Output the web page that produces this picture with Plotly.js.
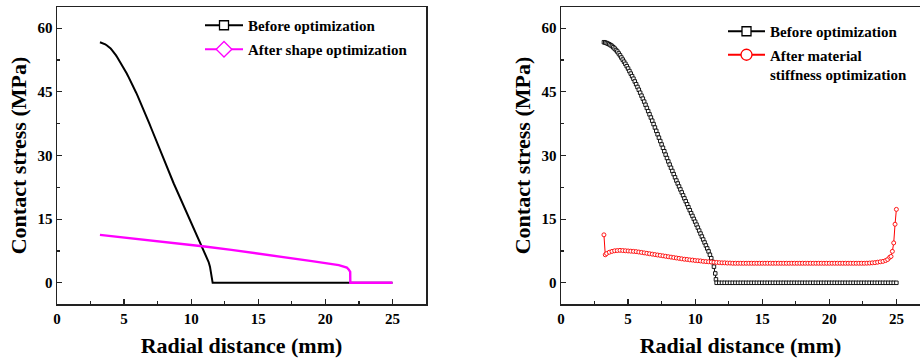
<!DOCTYPE html>
<html>
<head>
<meta charset="utf-8">
<script src="https://cdn.plot.ly/plotly-3.0.1.min.js"></script>
<style>
  html, body { margin: 0; padding: 0; background: #ffffff; }
  #chart { width: 920px; height: 362px; }
</style>
</head>
<body>
<div id="chart"></div>
<script>
// ---------- data ----------
const xTitle = 'Radial distance (mm)';
const yTitle = 'Contact stress (MPa)';
const nameBefore = 'Before optimization';
const nameShape = 'After shape optimization';
const nameMaterial = 'After material<br>stiffness optimization';

const beforeX = [3.2,3.3,3.4,3.5,3.6,3.7,3.8,3.9,4.0,4.1,4.2,4.3,4.4,4.5,4.6,4.7,4.8,4.9,5.0,5.1,5.2,5.3,5.4,5.5,5.6,5.7,5.8,5.9,6.0,6.1,6.2,6.3,6.4,6.5,6.6,6.7,6.8,6.9,7.0,7.1,7.2,7.3,7.4,7.5,7.6,7.7,7.8,7.9,8.0,8.1,8.2,8.3,8.4,8.5,8.6,8.7,8.8,8.9,9.0,9.1,9.2,9.3,9.4,9.5,9.6,9.7,9.8,9.9,10.0,10.1,10.2,10.3,10.4,10.5,10.6,10.7,10.8,10.9,11.0,11.1,11.2,11.3,11.4,11.5,11.55,
  11.6,11.8,12,12.2,12.4,12.6,12.8,13,13.2,13.4,13.6,13.8,14,14.2,14.4,14.6,14.8,15,15.2,15.4,15.6,15.8,16,16.2,16.4,16.6,16.8,17,17.2,17.4,17.6,17.8,18,18.2,18.4,18.6,18.8,19,19.2,19.4,19.6,19.8,20,20.2,20.4,20.6,20.8,21,21.2,21.4,21.6,21.8,22,22.2,22.4,22.6,22.8,23,23.2,23.4,23.6,23.8,24,24.2,24.4,24.6,24.8,25];
const beforeY = [56.7,56.6,56.5,56.35,56.2,56.0,55.8,55.5,55.2,54.85,54.5,54.05,53.6,53.1,52.6,52.1,51.6,51.05,50.5,49.9,49.3,48.7,48.1,47.45,46.8,46.15,45.5,44.8,44.1,43.4,42.7,41.95,41.2,40.45,39.7,38.95,38.2,37.4,36.6,35.8,35.0,34.2,33.4,32.6,31.8,31.0,30.2,29.4,28.6,27.85,27.1,26.35,25.6,24.85,24.1,23.4,22.7,22.0,21.3,20.6,19.9,19.2,18.5,17.8,17.1,16.4,15.75,15.05,14.4,13.7,13.0,12.3,11.6,10.9,10.2,9.5,8.8,8.1,7.4,6.6,5.8,4.9,3.8,2.2,0.8,
  0,0,0,0,0,0,0,0,0,0,0,0,0,0,0,0,0,0,0,0,0,0,0,0,0,0,0,0,0,0,0,0,0,0,0,0,0,0,0,0,0,0,0,0,0,0,0,0,0,0,0,0,0,0,0,0,0,0,0,0,0,0,0,0,0,0,0,0];

const shapeX = [3.2,5,7,9,11,13,15,17,19,21,21.4,21.6,21.75,21.85,21.86,25];
const shapeY = [11.3,10.7,10.0,9.3,8.55,7.75,6.9,6.0,5.1,4.15,3.9,3.6,3.1,2.6,0,0];

const materialX = [3.2,3.3,3.4,3.6,3.8,4.0,4.2,4.4,4.6,4.8,5.0,5.2,5.4,5.6,5.8,6.0,6.2,6.4,6.6,6.8,7.0,7.2,7.4,7.6,7.8,8.0,8.2,8.4,8.6,8.8,9.0,9.2,9.4,9.6,9.8,10.0,10.2,10.4,10.6,10.8,11.0,11.2,11.4,11.6,11.8,12.0,12.2,12.4,12.6,12.8,
  13,13.2,13.4,13.6,13.8,14,14.2,14.4,14.6,14.8,15,15.2,15.4,15.6,15.8,16,16.2,16.4,16.6,16.8,17,17.2,17.4,17.6,17.8,18,18.2,18.4,18.6,18.8,19,19.2,19.4,19.6,19.8,20,20.2,20.4,20.6,20.8,21,21.2,21.4,21.6,21.8,22,22.2,22.4,22.6,
  22.8,23.0,23.2,23.4,23.6,23.8,24.0,24.2,24.35,24.5,24.6,24.7,24.8,24.9,25.0];
const materialY = [11.3,6.6,6.9,7.2,7.4,7.55,7.6,7.65,7.6,7.55,7.5,7.45,7.4,7.35,7.25,7.15,7.05,6.95,6.85,6.75,6.65,6.55,6.45,6.35,6.25,6.15,6.05,5.95,5.85,5.75,5.65,5.55,5.5,5.4,5.35,5.25,5.2,5.15,5.05,5.0,4.95,4.9,4.85,4.8,4.75,4.7,4.7,4.65,4.65,4.6,
  4.6,4.6,4.6,4.6,4.6,4.6,4.6,4.6,4.6,4.6,4.6,4.6,4.6,4.6,4.6,4.6,4.6,4.6,4.6,4.6,4.6,4.6,4.6,4.6,4.6,4.6,4.6,4.6,4.6,4.6,4.6,4.6,4.6,4.6,4.6,4.6,4.6,4.6,4.6,4.6,4.6,4.6,4.6,4.6,4.6,4.6,4.6,4.6,4.6,
  4.62,4.65,4.7,4.75,4.85,4.95,5.05,5.25,5.5,6.0,6.2,7.4,9.4,13.8,17.3];

const xTicks = [0,5,10,15,20,25];
const yTicks = [0,15,30,45,60];

// ---------- styling ----------
const FONT = '"Liberation Serif", "Times New Roman", serif';
const BLACK = '#000000';
const MAGENTA = '#ff00ff';
const RED = '#ff0000';

const traces = [
  // left panel
  { x: beforeX, y: beforeY, xaxis: 'x', yaxis: 'y', mode: 'lines', showlegend: false,
    line: { color: BLACK, width: 2 } },
  { x: shapeX, y: shapeY, xaxis: 'x', yaxis: 'y', mode: 'lines', showlegend: false,
    line: { color: MAGENTA, width: 2.4 } },
  // left legend entries
  { x: [null], y: [null], xaxis: 'x', yaxis: 'y', name: nameBefore, legend: 'legend', legendgroup: 'a',
    mode: 'lines+markers', line: { color: BLACK, width: 2 },
    marker: { symbol: 'square', size: 9, color: '#ffffff', line: { color: BLACK, width: 1.3 } } },
  { x: [null], y: [null], xaxis: 'x', yaxis: 'y', name: nameShape, legend: 'legend', legendgroup: 'b',
    mode: 'lines+markers', line: { color: MAGENTA, width: 2 },
    marker: { symbol: 'diamond', size: 12, color: '#ffffff', line: { color: MAGENTA, width: 1.3 } } },
  // right panel
  { x: beforeX, y: beforeY, xaxis: 'x2', yaxis: 'y2', mode: 'lines+markers', showlegend: false,
    line: { color: BLACK, width: 1 },
    marker: { symbol: 'square', size: 3.5, color: '#ffffff', line: { color: BLACK, width: 0.9 } } },
  { x: materialX, y: materialY, xaxis: 'x2', yaxis: 'y2', mode: 'lines+markers', showlegend: false,
    line: { color: RED, width: 1 },
    marker: { symbol: 'circle', size: 4, color: '#ffffff', line: { color: RED, width: 0.9 } } },
  // right legend entries
  { x: [null], y: [null], xaxis: 'x2', yaxis: 'y2', name: nameBefore, legend: 'legend2', legendgroup: 'c',
    mode: 'lines+markers', line: { color: BLACK, width: 2 },
    marker: { symbol: 'square', size: 9, color: '#ffffff', line: { color: BLACK, width: 1.3 } } },
  { x: [null], y: [null], xaxis: 'x2', yaxis: 'y2', name: nameMaterial, legend: 'legend2', legendgroup: 'd',
    mode: 'lines+markers', line: { color: RED, width: 2 },
    marker: { symbol: 'circle', size: 11, color: '#ffffff', line: { color: RED, width: 1.3 } } }
];

const tickFont = { family: FONT, size: 15, weight: 700, color: BLACK };
const titleFont = { family: FONT, size: 22, weight: 700, color: BLACK };
const legendFont = { family: FONT, size: 15, weight: 700, color: BLACK };

function xAxis(domain, range, anchor) {
  return {
    domain: domain, range: range, anchor: anchor,
    tickmode: 'array', tickvals: xTicks, ticktext: xTicks.map(String),
    ticks: 'inside', ticklen: 5, tickwidth: 1.2, tickcolor: '#222',
    minor: { dtick: 2.5, tick0: 0, ticks: 'inside', ticklen: 3, tickwidth: 1.2, tickcolor: '#222', showgrid: false },
    showline: true, linecolor: '#222', linewidth: 1.5, mirror: true,
    showgrid: false, zeroline: false, tickfont: tickFont,
    title: { text: xTitle, font: titleFont, standoff: 12 }
  };
}
function yAxis(anchor, mirror) {
  return {
    domain: [0.0, 1.0], range: [-5, 65], anchor: anchor,
    tickmode: 'array', tickvals: yTicks, ticktext: yTicks.map(String),
    ticks: 'inside', ticklen: 5, tickwidth: 1.2, tickcolor: '#222',
    minor: { dtick: 7.5, tick0: 0, ticks: 'inside', ticklen: 3, tickwidth: 1.2, tickcolor: '#222', showgrid: false },
    showline: true, linecolor: '#222', linewidth: 1.5, mirror: mirror,
    showgrid: false, zeroline: false, tickfont: tickFont,
    title: { text: yTitle, font: titleFont, standoff: 5 }
  };
}

const layout = {
  width: 920, height: 362,
  margin: { l: 0, r: 0, t: 7, b: 58, pad: 0 },
  paper_bgcolor: '#ffffff', plot_bgcolor: '#ffffff',
  showlegend: true, hovermode: false,
  xaxis: xAxis([57/920, 426/920], [0, 27.5], 'y'),
  yaxis: yAxis('x', true),
  xaxis2: xAxis([561/920, 1], [0, 26.76], 'y2'),
  yaxis2: yAxis('x2', false),
  legend: { x: 200/920, y: 1 - 2/297, xref: 'paper', yref: 'paper', xanchor: 'left', yanchor: 'top',
            bgcolor: 'rgba(0,0,0,0)', borderwidth: 0, font: legendFont, itemwidth: 38,
            traceorder: 'grouped', tracegroupgap: 1.5, valign: 'top' },
  legend2: { x: 723/920, y: 1 - 8/297, xref: 'paper', yref: 'paper', xanchor: 'left', yanchor: 'top',
             bgcolor: 'rgba(0,0,0,0)', borderwidth: 0, font: legendFont, itemwidth: 37,
             traceorder: 'grouped', tracegroupgap: 1, valign: 'top' }
};

Plotly.newPlot('chart', traces, layout, { staticPlot: true, displayModeBar: false });
</script>
</body>
</html>
